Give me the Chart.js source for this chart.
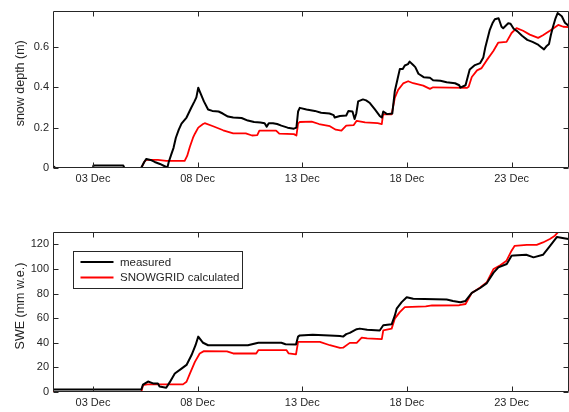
<!DOCTYPE html>
<html>
<head>
<meta charset="utf-8">
<script src="https://cdn.jsdelivr.net/npm/chart.js@4"></script>
<style>
  html, body { margin: 0; padding: 0; background: #fff; }
  #wrap { position: relative; width: 569px; height: 412px; overflow: hidden; }
  canvas { position: absolute; left: 0; }
  #depth { top: 0; }
  #swe { top: 200px; }
</style>
</head>
<body>
<div id="wrap">
  <canvas id="depth" width="569" height="200"></canvas>
  <canvas id="swe" width="569" height="212"></canvas>
</div>
<script>
// Time axis: day of December (fractional days)
const tickDays = [3, 8, 13, 18, 23];
const tickLabels = ['03 Dec', '08 Dec', '13 Dec', '18 Dec', '23 Dec'];
const seriesNames = ['measured', 'SNOWGRID calculated'];

// Snow depth (m), measured
const depthObsT = [1.09, 1.15, 1.2, 3.0, 3.02, 4.45, 4.5, 5.3, 5.45, 5.55, 5.75, 5.95, 6.2, 6.5, 6.55, 6.62, 6.75, 6.85, 6.96, 7.1, 7.23, 7.47, 7.7, 7.85, 7.94, 8.03, 8.1, 8.3, 8.5, 8.7, 9.0, 9.2, 9.45, 9.7, 10.1, 10.4, 10.7, 11.0, 11.2, 11.3, 11.4, 11.6, 11.8, 12.0, 12.3, 12.6, 12.72, 12.8, 12.88, 13.2, 13.6, 13.9, 14.3, 14.5, 14.55, 14.8, 15.1, 15.2, 15.4, 15.5, 15.58, 15.67, 15.9, 16.05, 16.23, 16.47, 16.7, 16.8, 16.87, 17.05, 17.3, 17.42, 17.55, 17.66, 17.8, 17.9, 18.05, 18.13, 18.3, 18.4, 18.55, 18.8, 19.1, 19.25, 19.6, 19.9, 20.3, 20.5, 20.55, 20.8, 21.0, 21.25, 21.5, 21.65, 21.75, 21.96, 22.1, 22.2, 22.38, 22.52, 22.6, 22.84, 22.95, 23.1, 23.28, 23.5, 23.75, 24.0, 24.24, 24.4, 24.55, 24.68, 24.79, 24.88, 24.98, 25.1, 25.2, 25.4, 25.55, 25.72];
const depthObs = [0.01, 0.005, 0, 0, 0.012, 0.012, 0, 0, 0.03, 0.045, 0.04, 0.03, 0.02, 0.005, 0, 0.03, 0.07, 0.1, 0.15, 0.19, 0.22, 0.25, 0.30, 0.33, 0.35, 0.398, 0.38, 0.33, 0.29, 0.283, 0.28, 0.27, 0.255, 0.25, 0.248, 0.235, 0.228, 0.225, 0.222, 0.205, 0.222, 0.222, 0.218, 0.21, 0.2, 0.195, 0.2, 0.28, 0.298, 0.29, 0.283, 0.274, 0.27, 0.262, 0.25, 0.258, 0.26, 0.282, 0.28, 0.243, 0.27, 0.33, 0.34, 0.335, 0.322, 0.29, 0.258, 0.25, 0.28, 0.267, 0.27, 0.38, 0.44, 0.49, 0.49, 0.508, 0.515, 0.527, 0.51, 0.5, 0.467, 0.45, 0.447, 0.435, 0.432, 0.425, 0.42, 0.41, 0.398, 0.41, 0.488, 0.51, 0.52, 0.548, 0.60, 0.685, 0.72, 0.737, 0.742, 0.70, 0.693, 0.717, 0.715, 0.69, 0.677, 0.655, 0.635, 0.625, 0.613, 0.60, 0.588, 0.605, 0.615, 0.66, 0.70, 0.742, 0.768, 0.752, 0.72, 0.705];

// Snow depth (m), SNOWGRID
const depthModT = [1.09, 5.31, 5.45, 5.55, 6.1, 6.5, 7.38, 7.5, 7.63, 7.78, 7.87, 8.03, 8.26, 8.34, 8.74, 9.22, 9.7, 10.3, 10.6, 10.85, 10.95, 11.75, 11.9, 12.6, 12.72, 12.8, 12.87, 13.45, 13.8, 14.32, 14.6, 14.87, 15.1, 15.45, 15.6, 16.0, 16.6, 16.8, 16.86, 17.27, 17.42, 17.58, 17.82, 18.06, 18.3, 18.78, 19.1, 19.25, 20.05, 20.86, 20.95, 21.1, 21.35, 21.57, 21.8, 22.13, 22.36, 22.76, 23.0, 23.24, 23.55, 23.87, 24.27, 24.5, 24.83, 25.23, 25.47, 25.72];
const depthMod = [0, 0, 0.03, 0.04, 0.04, 0.035, 0.035, 0.06, 0.105, 0.15, 0.17, 0.2, 0.218, 0.222, 0.207, 0.187, 0.172, 0.172, 0.161, 0.163, 0.185, 0.185, 0.17, 0.168, 0.161, 0.22, 0.228, 0.23, 0.218, 0.207, 0.19, 0.185, 0.21, 0.212, 0.234, 0.226, 0.222, 0.218, 0.266, 0.266, 0.347, 0.387, 0.419, 0.43, 0.42, 0.408, 0.392, 0.4, 0.398, 0.397, 0.403, 0.451, 0.484, 0.495, 0.532, 0.58, 0.621, 0.625, 0.669, 0.693, 0.68, 0.661, 0.645, 0.658, 0.68, 0.709, 0.70, 0.698];

// SWE (mm w.e.), measured
const sweObsT = [1.09, 5.31, 5.39, 5.63, 5.87, 6.1, 6.18, 6.5, 6.67, 6.91, 7.23, 7.47, 7.71, 7.9, 8.03, 8.26, 8.5, 9.5, 10.4, 10.9, 12.0, 12.2, 12.7, 12.8, 12.88, 13.5, 14.3, 14.8, 14.95, 15.1, 15.27, 15.6, 15.75, 16.1, 16.7, 16.87, 17.27, 17.42, 17.51, 17.75, 17.99, 18.3, 19.9, 20.2, 20.55, 20.8, 21.1, 21.5, 21.82, 22.14, 22.37, 22.77, 23.0, 23.1, 23.7, 24.05, 24.5, 24.83, 25.17, 25.5, 25.72];
const sweObs = [2, 2, 6, 8.5, 7, 7, 4.5, 3.5, 8, 15, 19, 22, 30, 38, 45, 40, 38, 38, 38, 40, 40, 38.8, 38.5, 45, 46, 46.5, 46, 45.5, 45, 47, 48, 51, 51.5, 50.5, 50, 54.2, 55, 62, 67.7, 73, 77, 75.8, 75.2, 74, 73, 74, 80.5, 84.5, 88.5, 97, 101.3, 104, 110.7, 111, 111.5, 109.4, 111.5, 118.5, 126, 125, 124.3];

// SWE (mm w.e.), SNOWGRID
const sweModT = [1.09, 5.31, 5.39, 5.6, 7.3, 7.47, 7.63, 7.87, 8.1, 8.3, 9.4, 9.7, 10.8, 10.9, 12.25, 12.35, 12.7, 12.8, 13.84, 14.32, 14.8, 14.95, 15.27, 15.6, 15.84, 16.1, 16.8, 16.87, 17.27, 17.42, 17.66, 17.9, 18.9, 19.2, 20.5, 20.8, 21.1, 21.5, 21.82, 22.14, 22.46, 22.76, 23.0, 23.15, 23.73, 24.2, 24.5, 24.83, 25.07, 25.2, 25.4, 25.72];
const sweMod = [0, 0, 5.5, 6.2, 6.2, 8.3, 15, 24.5, 31.3, 33.2, 33, 31.3, 31.3, 34, 34, 31.3, 30.5, 40.7, 40.7, 38, 35.8, 36, 39.9, 40, 44.2, 43.5, 43, 50.1, 51.5, 59.6, 64.9, 69, 69.5, 70.3, 70.5, 71.5, 80.5, 85, 89.2, 100, 103, 106.7, 114.8, 118.8, 119.6, 119.6, 121.5, 124.3, 127, 129.5, 132, 134];

const FONT = "'Liberation Sans', Arial, sans-serif";
const INK = '#262626';
const X_MIN = 1.09, X_MAX = 25.72;

function pairs(t, v) { return t.map((d, i) => ({ x: d, y: v[i] })); }

// Axis box with inward tick marks on all four sides
const boxTicks = {
  id: 'boxTicks',
  afterDatasetsDraw(chart) {
    const { ctx, chartArea: a, scales } = chart;
    const L = Math.round(a.left) + 0.5, R = Math.round(a.right) - 0.5;
    const T = Math.round(a.top) + 0.5, B = Math.round(a.bottom) - 0.5;
    const len = 5;
    ctx.save();
    ctx.strokeStyle = INK;
    ctx.lineWidth = 1;
    ctx.beginPath();
    ctx.rect(L, T, R - L, B - T);
    scales.x.ticks.forEach(t => {
      const px = Math.round(scales.x.getPixelForValue(t.value)) + 0.5;
      ctx.moveTo(px, B); ctx.lineTo(px, B - len);
      ctx.moveTo(px, T); ctx.lineTo(px, T + len);
    });
    scales.y.ticks.forEach(t => {
      const py = Math.round(scales.y.getPixelForValue(t.value)) + 0.5;
      ctx.moveTo(L, py); ctx.lineTo(L + len, py);
      ctx.moveTo(R, py); ctx.lineTo(R - len, py);
    });
    ctx.stroke();
    ctx.restore();
  }
};

// Rotated y-axis label, set slightly above the middle of the axis
const yLabel = {
  id: 'yLabel',
  afterDraw(chart, args, opts) {
    const { ctx, chartArea: a } = chart;
    ctx.save();
    ctx.translate(20.5, (a.top + a.bottom) / 2 - 6);
    ctx.rotate(-Math.PI / 2);
    ctx.font = '12.5px ' + FONT;
    ctx.fillStyle = INK;
    ctx.textAlign = 'center';
    ctx.textBaseline = 'middle';
    ctx.fillText(opts.text, 0, 0);
    ctx.restore();
  }
};

// Boxed legend inside the upper-left of the plot area
const insetLegend = {
  id: 'insetLegend',
  afterDraw(chart) {
    const { ctx, chartArea: a } = chart;
    const x0 = Math.round(a.left) + 20.5, y0 = Math.round(a.top) + 19.5;
    const w = 169, h = 37;
    ctx.save();
    ctx.fillStyle = '#fff';
    ctx.fillRect(x0, y0, w, h);
    ctx.strokeStyle = INK;
    ctx.lineWidth = 1;
    ctx.strokeRect(x0, y0, w, h);
    ctx.font = '11.5px ' + FONT;
    ctx.textBaseline = 'middle';
    ctx.textAlign = 'left';
    chart.data.datasets.forEach((ds, i) => {
      const yy = y0 + 10.5 + i * 15.6;
      ctx.strokeStyle = ds.borderColor;
      ctx.lineWidth = 2;
      ctx.beginPath();
      ctx.moveTo(x0 + 7, yy); ctx.lineTo(x0 + 40, yy);
      ctx.stroke();
      ctx.fillStyle = INK;
      ctx.fillText(ds.label, x0 + 46.5, yy + 0.5);
    });
    ctx.restore();
  }
};

function makeChart(id, obs, mod, yMax, yStep, yTitle, fmt, topPad, xHeight, plugins) {
  return new Chart(document.getElementById(id), {
    type: 'line',
    data: {
      datasets: [
        { label: seriesNames[0], data: obs, borderColor: '#000000', borderWidth: 2 },
        { label: seriesNames[1], data: mod, borderColor: '#ff0000', borderWidth: 1.8 }
      ]
    },
    options: {
      responsive: false,
      animation: false,
      devicePixelRatio: 1,
      events: [],
      layout: { padding: { left: 0, right: 0.5, top: topPad, bottom: 0 } },
      elements: { point: { radius: 0 }, line: { tension: 0, borderJoinStyle: 'round' } },
      plugins: { legend: { display: false }, tooltip: { enabled: false }, yLabel: { text: yTitle } },
      scales: {
        x: {
          type: 'linear',
          min: X_MIN,
          max: X_MAX,
          grid: { display: false, drawTicks: false },
          border: { display: false },
          afterBuildTicks: s => { s.ticks = tickDays.map(v => ({ value: v })); },
          afterFit: s => { s.height = xHeight; },
          ticks: {
            autoSkip: false,
            maxRotation: 0,
            padding: 4,
            color: INK,
            font: { family: FONT, size: 11 },
            callback: v => tickLabels[tickDays.indexOf(v)]
          }
        },
        y: {
          type: 'linear',
          min: 0,
          max: yMax,
          grid: { display: false, drawTicks: false },
          border: { display: false },
          afterFit: s => { s.width = 53; },
          ticks: {
            stepSize: yStep,
            includeBounds: false,
            padding: 4,
            color: INK,
            font: { family: FONT, size: 11 },
            callback: fmt
          }
        }
      }
    },
    plugins: plugins
  });
}

makeChart('depth', pairs(depthObsT, depthObs), pairs(depthModT, depthMod),
  0.78, 0.2, 'snow depth (m)', v => (Math.round(v * 10) / 10).toString(),
  7, 32, [boxTicks, yLabel]);

makeChart('swe', pairs(sweObsT, sweObs), pairs(sweModT, sweMod),
  130, 20, 'SWE (mm w.e.)', v => Math.round(v).toString(),
  32, 20, [boxTicks, yLabel, insetLegend]);
</script>
</body>
</html>
